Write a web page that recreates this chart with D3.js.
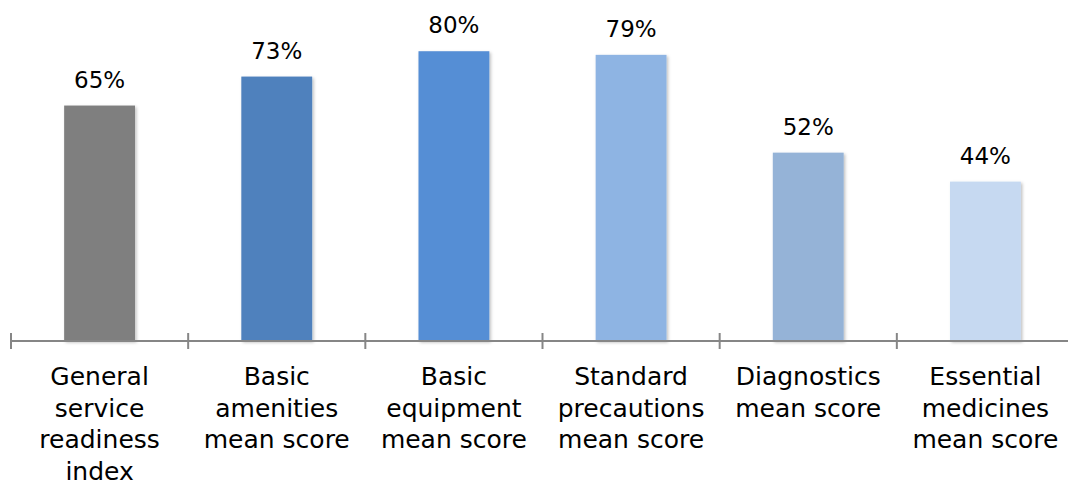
<!DOCTYPE html>
<html>
<head>
<meta charset="utf-8">
<script src="https://cdn.jsdelivr.net/npm/d3@7"></script>
<style>
  body { margin: 0; background: #fff; }
  text { font-family: "DejaVu Sans", sans-serif; fill: #000; }
</style>
</head>
<body>
<script>
// chart values
var categories = [
  ["General", "service", "readiness", "index"],
  ["Basic", "amenities", "mean score"],
  ["Basic", "equipment", "mean score"],
  ["Standard", "precautions", "mean score"],
  ["Diagnostics", "mean score"],
  ["Essential", "medicines", "mean score"]
];
var values = [65, 73, 80, 79, 52, 44];
var colors = ["#7f7f7f", "#4f81bd", "#558ed5", "#8eb4e3", "#95b3d7", "#c6d9f1"];

var width = 1068, height = 481;
var baseY = 341;

var svg = d3.select("body").append("svg")
    .attr("width", width)
    .attr("height", height);

// soft shadow like the office chart
var defs = svg.append("defs");
var f = defs.append("filter").attr("id", "shadow")
    .attr("x", "-10%").attr("y", "-10%").attr("width", "130%").attr("height", "130%");
f.append("feDropShadow")
    .attr("dx", 1.5).attr("dy", 1.5).attr("stdDeviation", 1.5)
    .attr("flood-color", "#000").attr("flood-opacity", 0.25);

var idx = d3.range(values.length);

var x = d3.scaleBand()
    .domain(idx)
    .range([11, 1074])
    .paddingInner(0.6)
    .paddingOuter(0.3);

var y = d3.scaleLinear()
    .domain([0, 90])
    .range([baseY, 15]);

// bars
svg.selectAll("rect.bar")
  .data(idx)
  .enter().append("rect")
    .attr("class", "bar")
    .attr("x", function(i) { return x(i); })
    .attr("y", function(i) { return y(values[i]); })
    .attr("width", x.bandwidth())
    .attr("height", function(i) { return baseY - y(values[i]); })
    .attr("fill", function(i) { return colors[i]; })
    .attr("filter", "url(#shadow)");

// value labels
svg.selectAll("text.val")
  .data(idx)
  .enter().append("text")
    .attr("class", "val")
    .attr("x", function(i) { return x(i) + x.bandwidth() / 2; })
    .attr("y", function(i) { return y(values[i]) - 18; })
    .attr("text-anchor", "middle")
    .style("font-size", "23px")
    .text(function(i) { return values[i] + "%"; });

// axis line + ticks at band edges
var step = x.step();
var x0 = x(0) - x.paddingOuter() * step;
svg.append("line")
    .attr("x1", x0).attr("x2", width)
    .attr("y1", baseY).attr("y2", baseY)
    .attr("stroke", "#868686").attr("stroke-width", 2);

svg.selectAll("line.tick")
  .data(d3.range(values.length + 1))
  .enter().append("line")
    .attr("class", "tick")
    .attr("x1", function(i) { return x0 + i * step; })
    .attr("x2", function(i) { return x0 + i * step; })
    .attr("y1", baseY - 8).attr("y2", baseY + 8)
    .attr("stroke", "#868686").attr("stroke-width", 2);

// category labels
var lab = svg.selectAll("text.cat")
  .data(idx)
  .enter().append("text")
    .attr("class", "cat")
    .attr("text-anchor", "middle")
    .style("font-size", "25px");

lab.selectAll("tspan")
  .data(function(i) {
    return categories[i].map(function(t) { return { t: t, i: i }; });
  })
  .enter().append("tspan")
    .attr("x", function(d) { return x(d.i) + x.bandwidth() / 2; })
    .attr("y", function(d, j) { return 385 + j * 31.5; })
    .text(function(d) { return d.t; });
</script>
</body>
</html>
